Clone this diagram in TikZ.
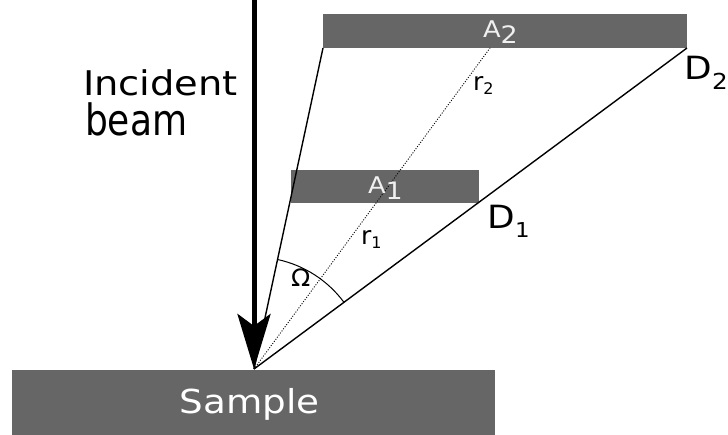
\documentclass[tikz,border=0pt]{standalone}
\usepackage{graphicx}
\usepackage{fontspec}
\setmainfont{DejaVu Sans}
\usetikzlibrary{arrows.meta,calc}
\definecolor{slab}{HTML}{666666}
\newcommand\hwide[2][1.12]{\scalebox{#1}[1]{#2}}
\begin{document}
\begin{tikzpicture}[x=1pt,y=1pt,
  slabbox/.style={fill=slab, draw=none, inner sep=0pt, outer sep=0pt},
  ray/.style={line width=1.4pt},
  lbl/.style={inner sep=0pt, outer sep=0pt, anchor=base west},
  onslab/.style={text=white!94!black},
]
\useasboundingbox (0,0) rectangle (728,-434);
% slabs
\node[slabbox, minimum width=483pt, minimum height=66pt] (sample) at (253.5,-403) {};
\node[slabbox, minimum width=188pt, minimum height=33pt] (a1) at (385,-186.5) {};
\node[slabbox, minimum width=364pt, minimum height=34pt] (a2) at (505,-31) {};
% points
\coordinate (O) at (254,-369);
\coordinate (beam) at (254,2);
\coordinate (m2) at (490,-48);
% rays
\draw[ray] (O) -- (a2.south west);
\draw[ray] (O) -- (a2.south east);
\draw[line width=0.9pt, dash pattern=on 1pt off 1.6pt] (O) -- (m2);
% solid angle arc
\draw[line width=1pt] ($(O)+(36.55:112)$) coordinate (arcstart) arc[start angle=36.55, end angle=77.87, radius=112pt];
% incident beam
\draw[line width=5pt, -{Stealth[length=55pt, width=33pt, inset=12pt]}] (beam) -- (O);
% labels
\node[lbl, font=\fontsize{34}{40}\selectfont] (inc) at (83,-95) {\hwide[1.13]{Incident}};
\node[lbl, font=\fontsize{36}{40}\selectfont] (bm) at (85,-135) {\scalebox{1}[1.2]{beam}};
\node[lbl, font=\fontsize{33}{40}\selectfont, text=white] (smp) at (179.5,-413) {\hwide[1.13]{Sample}};
\node[lbl, onslab, font=\fontsize{23}{26}\selectfont] (la1) at (368,-193) {\hwide{A\raisebox{-6pt}{\fontsize{24}{26}\selectfont 1}}};
\node[lbl, onslab, font=\fontsize{23}{26}\selectfont] (la2) at (483,-37) {\hwide{A\raisebox{-6pt}{\fontsize{24}{26}\selectfont 2}}};
\node[lbl, font=\fontsize{32}{36}\selectfont] (d1) at (487.5,-228) {\hwide{D\raisebox{-9pt}{\fontsize{20.5}{24}\selectfont 1}}};
\node[lbl, font=\fontsize{32}{36}\selectfont] (d2) at (684.5,-79) {\hwide{D\raisebox{-10pt}{\fontsize{22}{24}\selectfont 2}}};
\node[lbl, font=\fontsize{25}{28}\selectfont] (r1) at (361,-244) {r\raisebox{-4pt}{\fontsize{16}{18}\selectfont 1}};
\node[lbl, font=\fontsize{25}{28}\selectfont] (r2) at (473,-90) {r\raisebox{-4pt}{\fontsize{16}{18}\selectfont 2}};
\node[lbl, font=\fontsize{24}{28}\selectfont] (om) at (291,-286) {\hwide[1.05]{Ω}};
\end{tikzpicture}
\end{document}
